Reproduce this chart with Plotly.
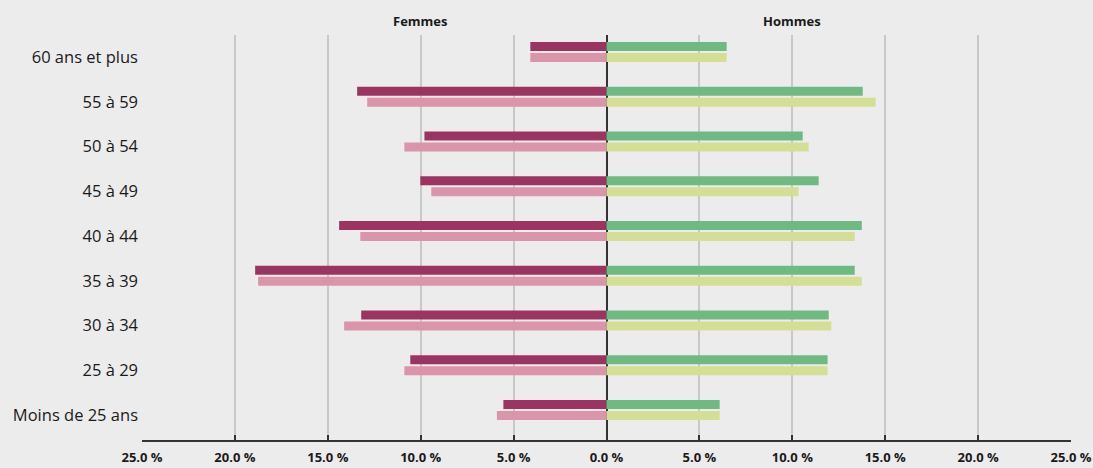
import plotly.graph_objects as go

# Age groups, bottom to top
categories = ["Moins de 25 ans", "25 à 29", "30 à 34", "35 à 39", "40 à 44",
              "45 à 49", "50 à 54", "55 à 59", "60 ans et plus"]

# Shares in %
femmes_a = [5.55, 10.56, 13.2, 18.91, 14.39, 10.02, 9.8, 13.42, 4.1]   # dark, top bar
femmes_b = [5.9, 10.88, 14.12, 18.75, 13.25, 9.43, 10.88, 12.88, 4.1]  # light, lower bar
hommes_a = [6.09, 11.9, 11.96, 13.36, 13.74, 11.42, 10.56, 13.79, 6.47]
hommes_b = [6.09, 11.9, 12.1, 13.74, 13.36, 10.34, 10.88, 14.49, 6.47]

tick_values = [-25, -20, -15, -10, -5, 0, 5, 10, 15, 20, 25]
tick_labels = ["25.0 %", "20.0 %", "15.0 %", "10.0 %", "5.0 %", "0.0 %",
               "5.0 %", "10.0 %", "15.0 %", "20.0 %", "25.0 %"]

ypos = list(range(len(categories)))

C_F_DARK = "#9B3461"
C_F_LIGHT = "#DA95AA"
C_H_DARK = "#6FBA83"
C_H_LIGHT = "#D4DF95"
FONT = "Open Sans"

fig = go.Figure()

def add(vals, color, offset, sign):
    fig.add_trace(go.Bar(
        y=ypos, x=[sign * v for v in vals], orientation="h",
        marker=dict(color=color, line=dict(width=0)),
        width=0.2, offset=offset, showlegend=False, hoverinfo="skip"))

add(femmes_a, C_F_DARK, 0.022, -1)
add(femmes_b, C_F_LIGHT, -0.222, -1)
add(hommes_a, C_H_DARK, 0.022, 1)
add(hommes_b, C_H_LIGHT, -0.222, 1)

fig.update_layout(
    width=1093, height=468,
    margin=dict(l=142, r=22, t=35, b=28),
    paper_bgcolor="#ECECEC", plot_bgcolor="#ECECEC",
    barmode="overlay",
    font=dict(family=FONT, color="#1a1a1a"),
    xaxis=dict(
        range=[-25, 25], tickvals=tick_values, ticktext=tick_labels,
        showgrid=True, gridcolor="#C8C8C8", gridwidth=1.5,
        zeroline=True, zerolinecolor="#333333", zerolinewidth=2,
        showline=True, linecolor="#333333", linewidth=1.5,
        ticks="inside", ticklen=5, tickcolor="#333333", tickwidth=1.5,
        tickfont=dict(size=13, family=FONT, weight="bold", color="#1a1a1a"),
        ticklabelstandoff=5,
        automargin=False,
        fixedrange=True,
    ),
    yaxis=dict(
        range=[-0.67, 8.38], tickvals=ypos, ticktext=categories,
        showgrid=False, zeroline=False, showline=False, ticks="",
        tickfont=dict(size=16.5, family=FONT, color="#1a1a1a"),
        ticklabelshift=5, ticklabelstandoff=3,
        automargin=False,
        fixedrange=True,
    ),
    annotations=[
        dict(text="Femmes", x=-10, y=1, xref="x", yref="paper", yanchor="bottom",
             yshift=3, showarrow=False,
             font=dict(size=13, family=FONT, weight="bold", color="#1a1a1a")),
        dict(text="Hommes", x=10, y=1, xref="x", yref="paper", yanchor="bottom",
             yshift=3, showarrow=False,
             font=dict(size=13, family=FONT, weight="bold", color="#1a1a1a")),
    ],
)

fig.write_html(
    "out.html",
    config={"displayModeBar": False},
    post_script="document.body.style.margin='0';document.body.style.overflow='hidden';",
)
